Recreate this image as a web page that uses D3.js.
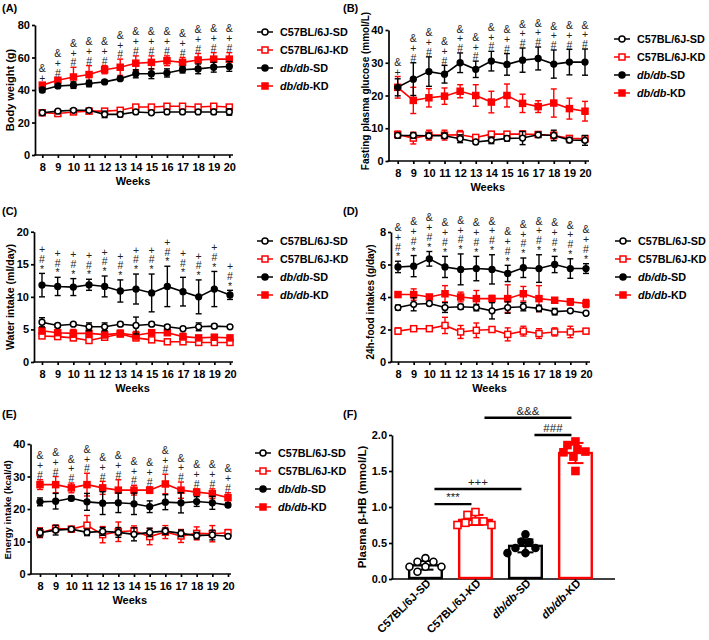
<!DOCTYPE html>
<html><head><meta charset="utf-8">
<script src="https://cdn.jsdelivr.net/npm/d3@7"></script>
<style>
body{margin:0;background:#fff}
svg text{font-family:"Liberation Sans",Arial,Helvetica,sans-serif}
</style></head><body>
<svg id="c" width="709" height="640"></svg>
<script>
// ---------------- DATA ----------------
const weeks = [8,9,10,11,12,13,14,15,16,17,18,19,20];
const groups = ["C57BL/6J-SD","C57BL/6J-KD","db/db-SD","db/db-KD"];

// (A) Body weight (g)
const bwC57SD = [26,27,27.5,27.5,25,25,26.5,26,26.5,26.5,26.5,26.5,26.5];
const bwC57SDerr = [1,1,1,1,2,1.5,1,1,1,1,1,1.5,2];
const bwC57KD = [26,25.5,26.5,27,27,27.5,29.5,29.5,30,30,29.5,30,29.5];
const bwC57KDerr = [1,1,1,1,1,1,1,1,1,1,1,1,1];
const bwDbSD = [40,42.5,43,44,45,47,50,50,50.5,52.5,53,54,54.5];
const bwDbSDerr = [1.5,1,2,2,1,1,2.5,3,2.5,2,3,3,3];
const bwDbKD = [43,46,48,49.5,52.5,54,56.5,57,58,57,58.5,59,59];
const bwDbKDerr = [1.5,1.5,6,5.5,2.5,5,4.5,4,3,3,4,4,4];
const annotA = ["&+","&+#","&+#","&+#","&+#","&+#","&+#","&+#","&+#","&+#","&+#","&+#","&+#"];

// (B) Fasting plasma glucose (mmol/L)
const fpgC57SD = [7.8,7.8,7.7,7.7,6.8,5.8,6.3,6.9,7,8,7.8,6.4,6.3];
const fpgC57SDerr = [0.8,0.8,0.8,0.8,1.2,0.5,1,0.8,2,0.8,1.6,0.8,1.5];
const fpgC57KD = [8.1,7,7.9,7.9,8,7.2,8.2,8.2,8.2,8.1,7.8,6.9,6.8];
const fpgC57KDerr = [1,1.8,1.5,1.5,1.3,0.5,0.5,0.5,1,0.5,1,0.5,0.5];
const fpgDbSD = [22.5,25,27.3,26.5,30,28,30.5,29.5,30.8,31.3,29.6,30.2,30.2];
const fpgDbSDerr = [2.6,5,4.5,2.7,3,2.5,3,3.3,3.7,3.5,4.3,3.9,4];
const fpgDbKD = [22.5,18.5,19.3,19.8,21.3,20,18,20,17.6,16.6,17.7,16,15.2];
const fpgDbKDerr = [3.3,4,2.8,2.5,2,3.3,3.3,3.5,2.8,1.8,4.3,3.2,3];
const annotB = ["&+","&+#","&+#","&+#","&+#","&+#","&+#","&+#","&+#","&+#","&+#","&+#","&+#"];

// (C) Water intake (ml/day)
const wiC57SD = [6.1,5.6,5.8,5.4,5.4,5.8,5.6,5.8,5.4,5.1,5.4,5.5,5.4];
const wiC57SDerr = [0.7,0.3,0.2,0.6,0.6,0.3,1.3,0.3,0.3,0.2,0.6,0.3,0.2];
const wiC57KD = [4.0,3.9,3.7,3.3,3.8,4.3,3.7,3.4,3.1,3.1,3.0,3.0,3.0];
const wiC57KDerr = [0.3,0.3,0.4,0.4,0.3,0.4,0.4,0.3,0.3,0.3,0.2,0.3,0.3];
const wiDbSD = [11.8,11.6,11.5,11.85,11.6,10.9,11.2,10.6,11.6,10.8,10,11.2,10.3];
const wiDbSDerr = [1.8,1.4,1.3,0.85,1.6,1.7,2.3,2.9,3.1,2.2,2.6,2.7,0.7];
const wiDbKD = [4.8,4.5,4.4,4.4,4.2,4.4,4.1,4.5,4.5,3.9,3.7,3.8,3.7];
const wiDbKDerr = [0.5,0.4,0.6,0.5,0.5,0.5,0.6,0.4,0.4,0.5,0.3,0.4,0.3];
const annotC = ["+#*","+#*","+#*","+#*","+#*","+#*","+#*","+#*","+#*","+#*","+#*","+#*","+#*"];

// (D) 24h-food intakes (g/day)
const fiC57SD = [3.35,3.55,3.6,3.35,3.4,3.35,3.15,3.35,3.4,3.3,3.1,3.15,3.0];
const fiC57SDerr = [0.15,0.4,0.1,0.3,0.15,0.2,0.5,0.35,0.25,0.2,0.2,0.1,0.05];
const fiC57KD = [1.9,2.05,2.05,2.25,1.85,1.95,2.0,1.7,1.9,1.75,1.85,1.85,1.9];
const fiC57KDerr = [0.2,0.1,0.1,0.5,0.4,0.45,0.15,0.4,0.3,0.3,0.25,0.35,0.15];
const fiDbSD = [5.85,5.9,6.35,5.85,5.7,5.75,5.7,5.45,5.8,5.75,6.0,5.75,5.75];
const fiDbSDerr = [0.35,0.65,0.45,0.65,0.95,0.75,0.9,0.5,0.6,0.85,0.5,0.6,0.3];
const fiDbKD = [4.15,4.15,4.0,4.2,4.0,3.9,3.9,3.9,4.2,3.9,3.8,3.7,3.6];
const fiDbKDerr = [0.15,0.35,0.15,0.5,0.3,0.5,0.2,0.85,0.45,0.8,0.15,0.2,0.25];
const annotD = ["&+#*","&+#*","&+#*","&+#*","&+#*","&+#*","&+#*","&+#*","&+#*","&+#*","&+#*","&+#*","&+#*"];

// (E) Energy intake (kcal/d)
const eiC57SD = [12.7,13.5,13.8,12.8,13.1,12.8,12.2,12.8,13.2,12.5,11.8,12.0,11.6];
const eiC57SDerr = [1.3,1.5,0.6,1,1.2,1.5,2,1.3,1,1,1,1.5,0.5];
const eiC57KD = [12.7,14.0,13.8,15.0,12.1,13.0,13.3,11.5,12.9,11.7,12.5,12.4,12.7];
const eiC57KDerr = [1.5,1,0.5,3,2.5,3,1.5,2.5,2,2,2,2.5,1];
const eiDbSD = [22.2,22.4,23.3,22.2,21.8,21.9,21.6,20.7,22.1,21.9,22.3,21.9,21.2];
const eiDbSDerr = [1.2,2.4,0.7,2.6,3.5,3,3.3,1.8,2.3,3.1,1.5,2.0,0.5];
const eiDbKD = [27.5,27.5,26.5,27.5,26.5,25.8,25.8,25.8,27.7,25.8,25.2,24.7,23.5];
const eiDbKDerr = [1.5,2.5,1.5,3.5,2,3.2,1.5,1,3,2.5,1,1.5,1.5];
const annotE = ["&+#","&+#","&+#","&+#","&+#","&+#","&+#","&+#","&+#","&+#","&+#","&+#","&+#"];

// (F) Plasma beta-HB (mmol/L)
const hbMeans = [0.19,0.82,0.46,1.75];
const hbErr = [0.06,0.07,0.09,0.14];
const hbC57SD = [0.29,0.24,0.24,0.17,0.17,0.17,0.10];
const hbC57KD = [0.93,0.89,0.80,0.75,0.75,0.80,0.78];
const hbDbSD = [0.62,0.52,0.51,0.43,0.43,0.36,0.36];
const hbDbKD = [1.91,1.86,1.80,1.77,1.76,1.70,1.50];
const hbCompA = [0,0,2,1];
const hbCompB = [1,2,3,3];
const hbCompLabel = ["***","+++","###","&&&"];
const hbCompY = [1.04,1.25,2.0,2.24];

// ---------------- DRAWING ----------------
const RED = "#ff0000", BLK = "#000000";
const styles = [
  {color:BLK, shape:"circle", filled:false},
  {color:RED, shape:"square", filled:false},
  {color:BLK, shape:"circle", filled:true},
  {color:RED, shape:"square", filled:true}
];
const drawOrder = [1,3,2,0];
const svg = d3.select("#c");

function marker(sel, st, cx, cy, s, sw){
  if(st.shape==="circle"){
    sel.append("circle").attr("cx",cx).attr("cy",cy).attr("r",s/2)
      .attr("fill",st.filled?st.color:"#fff").attr("stroke",st.color).attr("stroke-width",sw);
  } else {
    sel.append("rect").attr("x",cx-s/2).attr("y",cy-s/2).attr("width",s).attr("height",s)
      .attr("fill",st.filled?st.color:"#fff").attr("stroke",st.color).attr("stroke-width",sw);
  }
}
function groupText(t, name){
  if(name.startsWith("db/db")){
    t.append("tspan").attr("font-style","italic").text("db/db");
    t.append("tspan").text(name.slice(5));
  } else t.text(name);
}
function styleAxis(ax, fs){
  ax.selectAll("path,line").attr("stroke","#000").attr("stroke-width",1.7);
  ax.selectAll("text").attr("fill","#000").attr("font-size",fs).attr("font-weight","bold")
    .attr("font-family",'"Liberation Sans",Arial,sans-serif');
}

function linePanel(cfg){
  const g = svg.append("g");
  const x = d3.scaleLinear().domain([8,20]).range([cfg.x8,cfg.x20]);
  const y = d3.scaleLinear().domain([0,cfg.ymax]).range([cfg.yBot,cfg.yTop]);

  const yAx = g.append("g").attr("transform",`translate(${cfg.x0},0)`)
    .call(d3.axisLeft(y).tickValues(cfg.yticks).tickSize(3).tickPadding(2).tickSizeOuter(0).tickFormat(d3.format("d")));
  styleAxis(yAx, 11);
  const xAx = g.append("g").attr("transform",`translate(0,${cfg.yBot})`)
    .call(d3.axisBottom(x).tickValues(weeks).tickSize(3).tickPadding(5).tickSizeOuter(0).tickFormat(d3.format("d")));
  xAx.select(".domain").remove();
  styleAxis(xAx, 11);
  g.append("line").attr("x1",cfg.x0-0.85).attr("x2",cfg.x1).attr("y1",cfg.yBot).attr("y2",cfg.yBot)
    .attr("stroke","#000").attr("stroke-width",1.7);

  g.append("text").attr("x",(cfg.x0+cfg.x1)/2-1).attr("y",cfg.yBot+30).attr("text-anchor","middle")
    .attr("font-size",11).attr("font-weight","bold").text("Weeks");
  g.append("text").attr("transform",`translate(${cfg.tx},${cfg.ty}) rotate(-90)`).attr("text-anchor","middle")
    .attr("font-size",cfg.tfs).attr("font-weight","bold").text(cfg.title);
  svg.append("text").attr("x",cfg.lx).attr("y",cfg.ly).attr("font-size",11).attr("font-weight","bold").text(cfg.label);

  const capW = 3;
  drawOrder.forEach(si=>{
    const st = styles[si], vals = cfg.series[si], errs = cfg.errs[si];
    const eg = g.append("g").attr("stroke",st.color).attr("stroke-width",1.4);
    weeks.forEach((w,i)=>{
      const cx = x(w), y1 = y(vals[i]-errs[i]), y2 = y(vals[i]+errs[i]);
      eg.append("line").attr("x1",cx).attr("x2",cx).attr("y1",y1).attr("y2",y2);
      eg.append("line").attr("x1",cx-capW).attr("x2",cx+capW).attr("y1",y1).attr("y2",y1);
      eg.append("line").attr("x1",cx-capW).attr("x2",cx+capW).attr("y1",y2).attr("y2",y2);
    });
    g.append("path").datum(vals).attr("fill","none").attr("stroke",st.color).attr("stroke-width",1.6)
      .attr("d",d3.line().x((d,i)=>x(weeks[i])).y(d=>y(d)));
    const mg = g.append("g");
    weeks.forEach((w,i)=>marker(mg, st, x(w), y(vals[i]), st.shape==="circle"?5.8:6, 1.5));
  });

  // significance annotations: one vertical text per week (symbols stacked upright)
  weeks.forEach((w,i)=>{
    const top = d3.max(cfg.series.map((s,k)=>s[i]+cfg.errs[k][i]));
    const base = y(top) - 1;
    g.append("text").attr("x",x(w)).attr("y",base)
      .attr("text-anchor","end")
      .style("writing-mode","vertical-rl").style("text-orientation","upright")
      .style("letter-spacing","-2.2px")
      .attr("font-size",10.5).attr("fill","#222").text(cfg.annot[i]);
  });

  // legend
  const lg = g.append("g");
  groups.forEach((name,i)=>{
    const st = styles[i], ly = cfg.legY + i*18;
    lg.append("line").attr("x1",cfg.legX-8).attr("x2",cfg.legX+8).attr("y1",ly).attr("y2",ly)
      .attr("stroke",st.color).attr("stroke-width",1.5);
    marker(lg, st, cfg.legX, ly, 6, 1.5);
    const t = lg.append("text").attr("x",cfg.legX+15).attr("y",ly+4).attr("font-size",10.8).attr("font-weight","bold");
    groupText(t, name);
  });
}

linePanel({label:"(A)", lx:2, ly:12, x0:35, x1:233, x8:42.3, x20:229.3, yTop:25, yBot:155, ymax:80,
  yticks:[0,20,40,60,80], title:"Body weight (g)", tx:14, ty:90, tfs:11, legX:265, legY:32,
  series:[bwC57SD,bwC57KD,bwDbSD,bwDbKD], errs:[bwC57SDerr,bwC57KDerr,bwDbSDerr,bwDbKDerr], annot:annotA});
linePanel({label:"(B)", lx:343, ly:12, x0:388.5, x1:589, x8:397.7, x20:585, yTop:30, yBot:161, ymax:40,
  yticks:[0,10,20,30,40], title:"Fasting plasma glucose (mmol/L)", tx:369, ty:91, tfs:10, legX:622, legY:39,
  series:[fpgC57SD,fpgC57KD,fpgDbSD,fpgDbKD], errs:[fpgC57SDerr,fpgC57KDerr,fpgDbSDerr,fpgDbKDerr], annot:annotB});
linePanel({label:"(C)", lx:2, ly:215, x0:34, x1:233, x8:42, x20:230, yTop:231.7, yBot:362, ymax:20,
  yticks:[0,5,10,15,20], title:"Water intake (ml/day)", tx:14, ty:297, tfs:10.6, legX:265, legY:241,
  series:[wiC57SD,wiC57KD,wiDbSD,wiDbKD], errs:[wiC57SDerr,wiC57KDerr,wiDbSDerr,wiDbKDerr], annot:annotC});
linePanel({label:"(D)", lx:343, ly:215, x0:391, x1:590, x8:398, x20:586, yTop:232, yBot:362, ymax:8,
  yticks:[0,2,4,6,8], title:"24h-food intakes (g/day)", tx:374, ty:302, tfs:10, legX:623, legY:241,
  series:[fiC57SD,fiC57KD,fiDbSD,fiDbKD], errs:[fiC57SDerr,fiC57KDerr,fiDbSDerr,fiDbKDerr], annot:annotD});
linePanel({label:"(E)", lx:2, ly:418, x0:30.5, x1:231, x8:40, x20:228, yTop:444, yBot:574, ymax:40,
  yticks:[0,10,20,30,40], title:"Energy intake (kcal/d)", tx:11, ty:510, tfs:9.6, legX:263, legY:453,
  series:[eiC57SD,eiC57KD,eiDbSD,eiDbKD], errs:[eiC57SDerr,eiC57KDerr,eiDbSDerr,eiDbKDerr], annot:annotE});

// ---- Panel F ----
(function(){
  const g = svg.append("g");
  const x0 = 392, x1 = 615, yBot = 579, yTop = 435;
  const xb = d3.scaleBand().domain(groups).range([x0,x1]).paddingInner(0.3).paddingOuter(0.38).align(0.42);
  const y = d3.scaleLinear().domain([0,2]).range([yBot,yTop]);
  const yAx = g.append("g").attr("transform",`translate(${x0},0)`)
    .call(d3.axisLeft(y).tickValues([0,0.5,1,1.5,2]).tickSize(3).tickPadding(2).tickSizeOuter(0).tickFormat(d3.format(".1f")));
  styleAxis(yAx, 11);
  const xAx = g.append("g").attr("transform",`translate(0,${yBot})`)
    .call(d3.axisBottom(xb).tickSize(3).tickSizeOuter(0));
  xAx.select(".domain").remove();
  styleAxis(xAx, 11.2);
  xAx.selectAll("text").each(function(d){
    const t = d3.select(this); t.text(null);
    groupText(t, d);
  }).attr("text-anchor","end").attr("dy",null).attr("y",null)
    .attr("transform","translate(6,5) rotate(-45)");
  g.append("line").attr("x1",x0-0.85).attr("x2",x1).attr("y1",yBot).attr("y2",yBot)
    .attr("stroke","#000").attr("stroke-width",1.7);
  g.append("text").attr("transform",`translate(366,507) rotate(-90)`).attr("text-anchor","middle")
    .attr("font-size",11.5).attr("font-weight","bold").text("Plasma β-HB (mmol/L)");
  svg.append("text").attr("x",343).attr("y",418).attr("font-size",11).attr("font-weight","bold").text("(F)");

  const pts = [hbC57SD,hbC57KD,hbDbSD,hbDbKD];
  const bw = xb.bandwidth();
  groups.forEach((name,i)=>{
    const st = styles[i], cx = xb(name)+bw/2;
    g.append("rect").attr("x",xb(name)+1.2).attr("y",y(hbMeans[i])).attr("width",bw-2.4)
      .attr("height",yBot-y(hbMeans[i])-1).attr("fill","#fff").attr("stroke",st.color).attr("stroke-width",2.4);
    const vals = pts[i], d = 8, placed = [];
    const order = vals.map((v,k)=>k).sort((a,b)=>vals[b]-vals[a]);
    order.forEach(k=>{
      const py = y(vals[k]);
      for(let j=0;j<60;j++){
        const off = j===0?0:(j%2?-1:1)*Math.ceil(j/2)*2;
        if(placed.every(p=>Math.hypot(p.x-off,p.y-py)>=d)){placed.push({x:off,y:py});break;}
      }
    });
    const eg = g.append("g").attr("stroke",st.color).attr("stroke-width",2);
    const ya = y(hbMeans[i]-hbErr[i]), yb = y(hbMeans[i]+hbErr[i]);
    eg.append("line").attr("x1",cx).attr("x2",cx).attr("y1",ya).attr("y2",yb);
    eg.append("line").attr("x1",cx-8).attr("x2",cx+8).attr("y1",ya).attr("y2",ya);
    eg.append("line").attr("x1",cx-8).attr("x2",cx+8).attr("y1",yb).attr("y2",yb);
    placed.forEach(p=>marker(g, st, cx+p.x, p.y, 7, 1.6));
  });
  hbCompLabel.forEach((lab,k)=>{
    const xa = xb(groups[hbCompA[k]])+bw/2+9, xe = xb(groups[hbCompB[k]])+bw/2-4, yy = y(hbCompY[k]);
    g.append("line").attr("x1",xa).attr("x2",xe).attr("y1",yy).attr("y2",yy).attr("stroke","#000").attr("stroke-width",2.4);
    g.append("text").attr("x",(xa+xe)/2).attr("y",yy-3).attr("text-anchor","middle")
      .attr("font-size",11.5).attr("fill","#222").text(lab);
  });
})();
</script>
</body></html>
